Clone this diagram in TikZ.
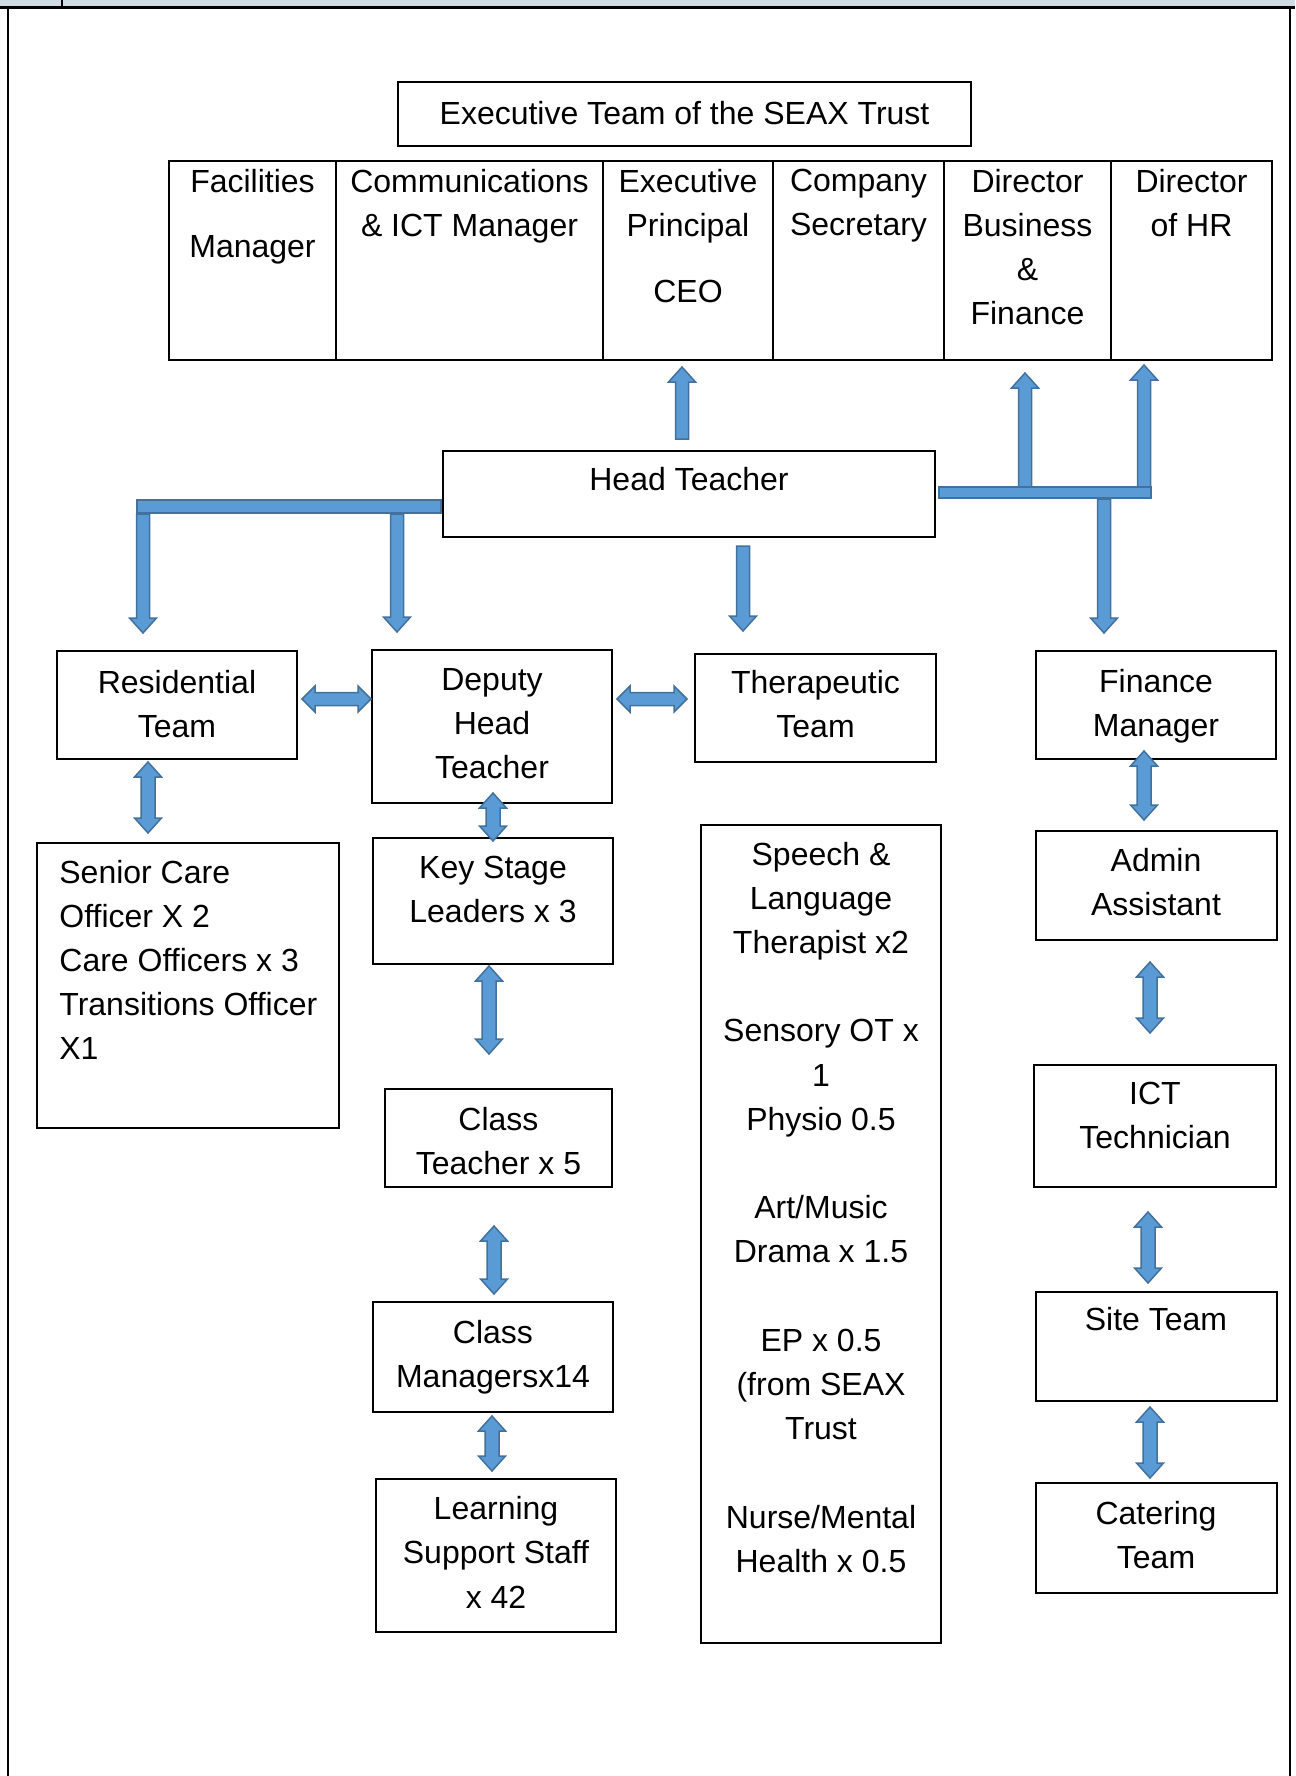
\documentclass[tikz,border=0pt]{standalone}
\usepackage{fontspec}
\setmainfont{Liberation Sans}
\usetikzlibrary{fit}
\definecolor{arrfill}{HTML}{5B9BD5}
\definecolor{arrline}{HTML}{41719C}
\definecolor{bandcol}{HTML}{D0DCE4}
\tikzset{
  orgbox/.style={draw=black, line width=1.1pt, inner sep=0pt},
  txt/.style={inner sep=0pt, align=center, anchor=north, font=\fontsize{16}{22.1}\selectfont},
  txtl/.style={inner sep=0pt, align=left, anchor=north west, font=\fontsize{16}{22.1}\selectfont},
  barrow/.style={fill=arrfill, draw=arrline, line width=0.75pt, line join=miter},
  framel/.style={draw=black, line width=1.2pt},
}
% box by corners
\newcommand\obox[5]{\node[orgbox, fit={(#2,#3) (#4,#5)}] (#1) {};}
% single vertical block arrow: x, tail y, tip y
\newcommand\varrow[3]{%
  \pgfmathsetmacro\sg{sign(#3-#2)}%
  \path[barrow] ({#1-6.5},#2) -- ({#1-6.5},{#3-\sg*15}) -- ({#1-13.5},{#3-\sg*15}) -- (#1,#3)
    -- ({#1+13.5},{#3-\sg*15}) -- ({#1+6.5},{#3-\sg*15}) -- ({#1+6.5},#2) -- cycle;}
% double vertical block arrow: x, top y, bottom y
\newcommand\vdarrow[3]{%
  \path[barrow] (#1,#2) -- ({#1+13.5},{#2+15}) -- ({#1+7},{#2+15}) -- ({#1+7},{#3-15})
    -- ({#1+13.5},{#3-15}) -- (#1,#3) -- ({#1-13.5},{#3-15}) -- ({#1-7},{#3-15})
    -- ({#1-7},{#2+15}) -- ({#1-13.5},{#2+15}) -- cycle;}
% double horizontal block arrow: left x, right x, y
\newcommand\hdarrow[3]{%
  \path[barrow] (#1,#3) -- ({#1+13},{#3-13}) -- ({#1+13},{#3-6.5}) -- ({#2-13},{#3-6.5})
    -- ({#2-13},{#3-13}) -- (#2,#3) -- ({#2-13},{#3+13}) -- ({#2-13},{#3+6.5})
    -- ({#1+13},{#3+6.5}) -- ({#1+13},{#3+13}) -- cycle;}
\begin{document}
\begin{tikzpicture}[x=0.5pt, y=-0.5pt]
\useasboundingbox (0,0) rectangle (1295,1776);
% page frame
\fill[bandcol] (0,0) rectangle (1295,7);
\draw[framel] (0,7.5) -- (1295,7.5);
\draw[framel] (62,0) -- (62,7.5);
\draw[framel] (8,7) -- (8,1776);
\draw[framel] (1290,7) -- (1290,1776);

% executive team
\obox{exec}{398}{82}{971}{146}
\node[txt] (exec-t) at (684.5,100.5) {Executive Team of the SEAX Trust};

% top row
\obox{fac}{169}{161}{336}{360}
\obox{com}{336}{161}{603}{360}
\obox{ep}{603}{161}{773}{360}
\obox{cs}{773}{161}{944}{360}
\obox{dbf}{944}{161}{1111}{360}
\obox{hr}{1111}{161}{1272}{360}
\node[txt] (fac-t) at (252.5,168.5) {Facilities\\[10.8pt]Manager};
\node[txt] (com-t) at (469.5,168.5) {Communications\\\& ICT Manager};
\node[txt] (ep-t) at (688,168.5) {Executive\\Principal\\[10.8pt]CEO};
\node[txt] (cs-t) at (858.5,168.5) {Company\\Secretary};
\node[txt] (dbf-t) at (1027.5,168.5) {Director\\Business\\\&\\Finance};
\node[txt] (hr-t) at (1191.5,168.5) {Director\\of HR};

% head teacher
\obox{head}{443}{451}{935}{537}
\node[txt] (head-t) at (689,467) {Head Teacher};

% second row
\obox{res}{57}{651}{297}{759}
\node[txt] (res-t) at (177,669.5) {Residential\\Team};
\obox{dep}{372}{650}{612}{803}
\node[txt] (dep-t) at (492,668) {Deputy\\Head\\Teacher};
\obox{ther}{695}{654}{936}{762}
\node[txt] (ther-t) at (815.5,670) {Therapeutic\\Team};
\obox{fin}{1036}{651}{1276}{759}
\node[txt] (fin-t) at (1156,668.5) {Finance\\Manager};

% residential column
\obox{sen}{37}{843}{339}{1128}
\node[txtl] (sen-t) at (59,859.5) {Senior Care\\Officer X 2\\Care Officers x 3\\Transitions Officer\\X1};

% teaching column
\obox{ks}{373}{838}{613}{964}
\node[txt] (ks-t) at (493,856) {Key Stage\\Leaders x 3};
\obox{ct}{385}{1089}{612}{1187}
\node[txt] (ct-t) at (498.5,1107) {Class\\Teacher x 5};
\obox{cm}{373}{1302}{613}{1412}
\node[txt] (cm-t) at (493,1320) {Class\\Managersx14};
\obox{ls}{376}{1479}{616}{1632}
\node[txt] (ls-t) at (496,1496) {Learning\\Support Staff\\x 42};

% therapy column
\obox{sp}{701}{825}{941}{1643}
\node[txt] (sp-t) at (821,841.5) {Speech \&\\Language\\Therapist x2\\ \\Sensory OT x\\1\\Physio 0.5\\ \\Art/Music\\Drama x 1.5\\ \\EP x 0.5\\(from SEAX\\Trust\\ \\Nurse/Mental\\Health x 0.5};

% business column
\obox{adm}{1036}{831}{1277}{940}
\node[txt] (adm-t) at (1156,848) {Admin\\Assistant};
\obox{ict}{1034}{1065}{1276}{1187}
\node[txt] (ict-t) at (1155,1082) {ICT\\Technician};
\obox{site}{1036}{1292}{1277}{1401}
\node[txt] (site-t) at (1156,1307) {Site Team};
\obox{cat}{1036}{1483}{1277}{1593}
\node[txt] (cat-t) at (1156,1501) {Catering\\Team};

% arrows from head teacher upward
\varrow{682}{439}{367}
\varrow{1025}{487}{373}
\varrow{1144}{487}{365}
\path[barrow] (939,487) rectangle (1151,498);
\varrow{1104}{499}{633}
\varrow{743}{546}{631}
% left bar
\varrow{143}{514}{633}
\varrow{397}{514}{632}
\path[barrow] (137,500) rectangle (441,513);

% horizontal double arrows
\hdarrow{302}{371}{699}
\hdarrow{617}{687}{699}

% vertical double arrows
\vdarrow{148}{762}{833}
\vdarrow{493}{793}{841}
\vdarrow{489}{966}{1054}
\vdarrow{494}{1226}{1294}
\vdarrow{492}{1416}{1471}
\vdarrow{1144}{751}{820}
\vdarrow{1150}{962}{1033}
\vdarrow{1148}{1212}{1283}
\vdarrow{1150}{1407}{1478}
\end{tikzpicture}
\end{document}
